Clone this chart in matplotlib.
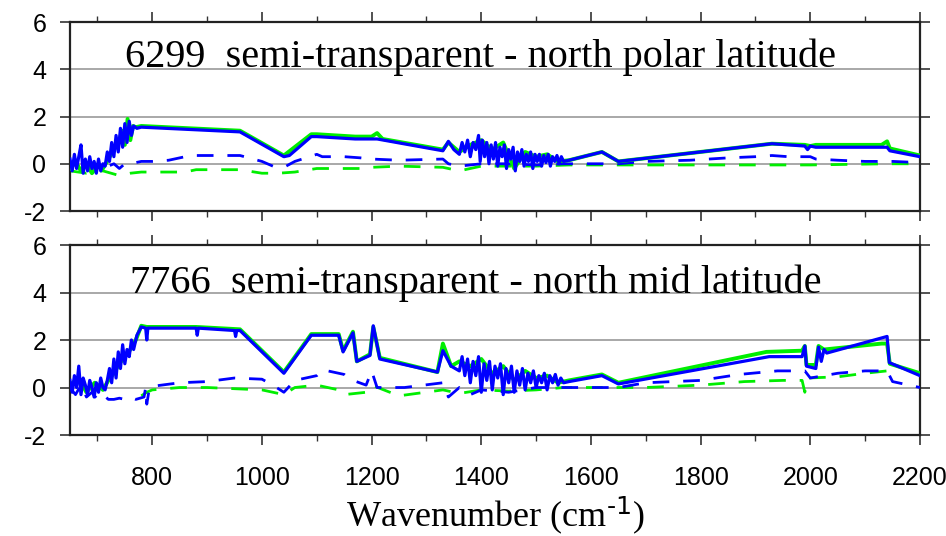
import matplotlib.pyplot as plt
from matplotlib.ticker import MultipleLocator

plt.rcParams['axes.unicode_minus'] = False
plt.rcParams['font.family'] = ['Liberation Sans', 'DejaVu Sans']
plt.rcParams['mathtext.default'] = 'regular'

BLUE = '#0000ff'
GREEN = '#00ee00'

# ---- top panel: 6299 north polar ----
top_blue_x = [650, 654, 658, 662, 666, 670, 674, 678, 682, 686, 690, 694, 698, 702, 706, 710, 714, 718,
              722, 726, 730, 734, 738, 742, 746, 750, 754, 758, 762, 766, 772, 780, 960, 1040, 1050,
              1090, 1100, 1170, 1210, 1330, 1340, 1350, 1360, 1365, 1370, 1375, 1380, 1385, 1390, 1395,
              1398, 1402, 1406, 1410, 1414, 1418, 1422, 1426, 1430, 1434, 1438, 1442, 1446, 1450, 1454,
              1458, 1462, 1466, 1470, 1474, 1478, 1482, 1486, 1490, 1494, 1498, 1502, 1506, 1510, 1514,
              1518, 1522, 1526, 1530, 1534, 1538, 1542, 1546, 1550, 1560, 1620, 1650, 1930, 1990, 1995,
              2000, 2010, 2140, 2145, 2200]
top_blue_y = [0.2, -0.3, 0.4, -0.2, 0.3, 0.8, -0.4, 0.2, -0.3, 0.3, -0.2, 0.1, -0.4, 0.2, -0.3, 0.0, -0.1, 0.5,
              0.1, 0.9, 0.3, 1.2, 0.5, 1.5, 0.7, 1.7, 0.9, 1.8, 1.2, 1.6, 1.5, 1.55, 1.35, 0.3, 0.35,
              1.15, 1.15, 1.05, 1.05, 0.55, 0.95, 0.6, 0.4, 0.9, 0.5, 1.0, 0.3, 0.9, 0.6, 1.2,
              0.1, 1.0, 0.3, 0.9, 0.0, 0.8, 0.2, 0.9, -0.1, 0.7, 0.3, 0.8, -0.2, 0.6, 0.2,
              0.7, -0.3, 0.5, 0.1, 0.6, -0.1, 0.4, 0.1, 0.5, -0.2, 0.4, 0.1, 0.4, -0.1, 0.35,
              0.05, 0.4, -0.1, 0.3, 0.1, 0.35, 0.0, 0.3, 0.1, 0.15, 0.5, 0.1, 0.85, 0.75, 0.6,
              0.75, 0.7, 0.7, 0.55, 0.3]

top_green_x = [650, 660, 670, 680, 690, 700, 710, 720, 730, 740, 745, 750, 755, 760, 765, 770, 780, 960,
               1040, 1090, 1100, 1170, 1200, 1210, 1220, 1330, 1340, 1360, 1380, 1400, 1420, 1440, 1460,
               1480, 1500, 1520, 1540, 1560, 1620, 1650, 1930, 1990, 2000, 2010, 2130, 2140, 2145, 2200]
top_green_y = [-0.2, 0.1, -0.3, 0.0, -0.4, -0.1, -0.2, 0.2, 0.6, 1.0, 1.4, 0.8, 1.9, 1.0, 1.6, 1.55, 1.6, 1.4,
               0.35, 1.25, 1.25, 1.15, 1.15, 1.3, 1.05, 0.6, 0.9, 0.5, 0.8, 1.0, 0.6, 0.9, -0.2,
               0.5, 0.3, 0.4, 0.1, 0.15, 0.5, 0.1, 0.85, 0.8, 0.75, 0.8, 0.8, 0.95, 0.65, 0.35]

top_blue_dash_x = [650, 660, 670, 680, 690, 700, 710, 720, 730, 740, 750, 760, 770, 780, 800, 830, 870, 960,
                   1000, 1020, 1040, 1060, 1100, 1110, 1150, 1180, 1200, 1250, 1330, 1340, 1360, 1400, 1450,
                   1500, 1550, 1600, 1650, 1700, 1780, 1850, 1900, 1930, 1960, 2000, 2010, 2050, 2100, 2150, 2200]
top_blue_dash_y = [-0.2, 0.0, -0.3, 0.1, -0.2, 0.0, -0.3, -0.1, 0.0, -0.2, 0.0, 0.0, 0.05, 0.1, 0.1, 0.15, 0.35, 0.35,
                   0.1, -0.1, -0.15, 0.1, 0.4, 0.3, 0.3, 0.25, 0.2, 0.15, 0.2, 0.0, -0.1, 0.0, 0.0,
                   -0.05, 0.0, 0.0, 0.0, 0.1, 0.15, 0.25, 0.3, 0.35, 0.3, 0.3, 0.2, 0.15, 0.1, 0.1, 0.05]

top_green_dash_x = [650, 680, 710, 740, 760, 780, 800, 830, 860, 880, 960, 1000, 1030, 1060, 1100, 1180, 1200,
                    1250, 1330, 1360, 1400, 1450, 1500, 1560, 1650, 1800, 2000, 2140, 2200]
top_green_dash_y = [-0.3, -0.4, -0.3, -0.5, -0.4, -0.35, -0.35, -0.35, -0.35, -0.25, -0.25, -0.4, -0.4, -0.35,
                    -0.2, -0.2, -0.15, -0.1, -0.15, -0.3, -0.1, -0.1, -0.1, -0.05, -0.05, -0.05, -0.05, 0.0, 0.0]

# ---- bottom panel: 7766 north mid ----
bot_blue_x = [650, 654, 658, 662, 666, 670, 674, 678, 682, 686, 690, 694, 698, 702, 706, 710, 714, 718,
              722, 726, 730, 734, 738, 742, 746, 750, 754, 758, 762, 766, 772, 780, 788, 790, 792, 880,
              882, 884, 950, 952, 954, 960, 1040, 1090, 1140, 1148, 1166, 1173, 1197, 1203, 1215, 1320,
              1330, 1345, 1360, 1365, 1370, 1375, 1380, 1385, 1390, 1395, 1400, 1405, 1410, 1415, 1420,
              1425, 1430, 1435, 1440, 1445, 1450, 1455, 1460, 1465, 1470, 1475, 1480, 1485, 1490, 1495,
              1500, 1505, 1510, 1515, 1520, 1525, 1530, 1535, 1540, 1545, 1550, 1560, 1620, 1650, 1925,
              1985, 1990, 1993, 2010, 2015, 2020, 2025, 2030, 2140, 2144, 2200]
bot_blue_y = [0.3, -0.2, 0.5, 0.0, 0.9, -0.3, 0.4, 0.1, -0.3, 0.3, 0.0, -0.4, 0.2, -0.2, 0.4, 0.0, -0.1, 0.3,
              0.8, 0.2, 1.2, 0.4, 1.5, 0.8, 1.8, 1.0, 1.6, 1.3, 2.0, 1.6, 2.2, 2.55, 2.5, 2.0, 2.5, 2.5,
              2.2, 2.5, 2.4, 2.15, 2.4, 2.4, 0.6, 2.2, 2.2, 1.5, 2.3, 1.1, 1.35, 2.6, 1.2, 0.65,
              1.55, 0.9, 0.7, 1.3, 0.5, 1.2, 0.2, 1.1, 0.5, 1.3, -0.2, 1.0, 0.3, 1.1, -0.1,
              0.9, 0.4, 1.0, -0.3, 0.8, 0.2, 0.9, -0.2, 0.7, 0.1, 0.8, -0.1, 0.6, 0.2, 0.7,
              0.0, 0.5, 0.2, 0.6, -0.1, 0.5, 0.2, 0.55, 0.1, 0.4, 0.2, 0.25, 0.5, 0.15, 1.3,
              1.3, 1.75, 0.9, 0.8, 1.7, 1.1, 1.6, 1.45, 2.15, 1.05, 0.5]

bot_green_x = [650, 665, 680, 695, 710, 720, 730, 740, 750, 760, 770, 780, 790, 880, 960, 1040, 1090, 1140,
               1148, 1166, 1173, 1197, 1203, 1215, 1320, 1330, 1345, 1360, 1380, 1400, 1420, 1440, 1460,
               1480, 1500, 1520, 1540, 1560, 1620, 1650, 1920, 1985, 1990, 1993, 2010, 2015, 2025, 2130,
               2140, 2145, 2200]
bot_green_y = [0.1, 0.4, -0.2, 0.2, -0.1, 0.3, 0.6, 1.0, 1.3, 1.6, 2.0, 2.6, 2.55, 2.55, 2.45, 0.65, 2.25, 2.25,
               1.55, 2.35, 1.1, 1.4, 2.55, 1.25, 0.65, 1.85, 0.9, 1.1, 0.9, 1.2, 0.6, 0.9, 0.3,
               0.7, 0.4, 0.5, 0.2, 0.3, 0.55, 0.2, 1.5, 1.55, 1.75, 0.95, 0.95, 1.75, 1.6, 1.85,
               1.85, 1.0, 0.6]

bot_blue_dash_x = [650, 660, 670, 680, 690, 700, 710, 720, 730, 740, 750, 760, 770, 785, 788, 790, 795, 800,
                   850, 900, 950, 1000, 1020, 1040, 1060, 1100, 1110, 1150, 1160, 1190, 1200, 1210, 1230, 1260,
                   1330, 1340, 1360, 1380, 1400, 1450, 1500, 1550, 1600, 1650, 1700, 1800, 1870, 1940, 1990,
                   2000, 2050, 2100, 2140, 2150, 2200]
bot_blue_dash_y = [0.0, -0.3, 0.1, -0.4, -0.2, -0.5, -0.3, -0.5, -0.5, -0.45, -0.5, -0.4, -0.5, -0.4, 0.0, -0.7,
                   0.0, 0.05, 0.2, 0.25, 0.4, 0.35, 0.1, -0.2, 0.3, 0.5, 0.75, 0.55, 0.35, 0.1, 0.7, 0.0, 0.0,
                   0.0, 0.2, -0.4, 0.0, -0.3, -0.1, -0.2, 0.0, 0.0, 0.0, 0.0, 0.2, 0.3, 0.55, 0.7, 0.7,
                   0.4, 0.6, 0.7, 0.7, 0.25, 0.0]

bot_green_dash_x = [780, 790, 800, 850, 900, 950, 1000, 1040, 1060, 1100, 1140, 1150, 1190, 1200, 1250, 1330,
                    1360, 1400, 1450, 1500, 1550, 1600, 1700, 1800, 1880, 1950, 1985, 1990, 1995, 2050, 2100,
                    2140]
bot_green_dash_y = [-0.35, -0.2, -0.1, 0.0, 0.0, -0.05, -0.1, -0.3, 0.0, 0.1, -0.1, -0.3, -0.2, 0.1, -0.35, -0.1,
                    -0.25, -0.1, -0.15, -0.1, 0.0, 0.0, 0.0, 0.1, 0.25, 0.3, 0.3, -0.2, 0.4, 0.45, 0.6, 0.7]

titles = ['6299  semi-transparent - north polar latitude',
          '7766  semi-transparent - north mid latitude']

fig = plt.figure(figsize=(9.46, 5.36), dpi=100)
ax1 = fig.add_axes([0.074, 0.6063, 0.8985, 0.3526])
ax2 = fig.add_axes([0.074, 0.1884, 0.8985, 0.3545])

panels = [
    (ax1, top_green_x, top_green_y, top_blue_x, top_blue_y,
     top_green_dash_x, top_green_dash_y, top_blue_dash_x, top_blue_dash_y, titles[0], 1399, 4.5),
    (ax2, bot_green_x, bot_green_y, bot_blue_x, bot_blue_y,
     bot_green_dash_x, bot_green_dash_y, bot_blue_dash_x, bot_blue_dash_y, titles[1], 1390, 4.4),
]

for ax, gx, gy, bx, by, gdx, gdy, bdx, bdy, title, tx, ty in panels:
    for yv in [0, 2, 4]:
        ax.axhline(yv, color='#999999', lw=1.2, zorder=1)
    ax.plot(gdx, gdy, color=GREEN, lw=2.0, dashes=(6, 5), zorder=2)
    ax.plot(bdx, bdy, color=BLUE, lw=2.0, dashes=(6, 5), zorder=3)
    ax.plot(gx, gy, color=GREEN, lw=2.8, zorder=4)
    ax.plot(bx, by, color=BLUE, lw=2.3, zorder=5)
    ax.text(tx, ty, title, ha='center', va='center', fontsize=29,
            family=['Liberation Serif', 'DejaVu Serif'], zorder=6)
    ax.set_xlim(650, 2200)
    ax.set_ylim(-2, 6)
    ax.xaxis.set_major_locator(MultipleLocator(200))
    ax.xaxis.set_minor_locator(MultipleLocator(100))
    ax.yaxis.set_major_locator(MultipleLocator(2))
    ax.tick_params(axis='both', which='major', direction='out', length=7, width=1.2,
                   top=True, right=True, labelsize=18, pad=10, color='#333333')
    ax.tick_params(axis='x', which='minor', direction='out', length=4, width=1.0,
                   top=True, color='#333333')
    for s in ax.spines.values():
        s.set_linewidth(1.6)
        s.set_color('#222222')

ax1.tick_params(axis='x', labelbottom=False)
ax2.tick_params(axis='x', pad=15)

fig.text(0.524, 1 - 515 / 536, r'Wavenumber (cm$^{\text{-1}}$)', ha='center', va='center',
         fontsize=26, family=['Liberation Serif', 'DejaVu Serif'])

fig.savefig('out.png', dpi=100)
